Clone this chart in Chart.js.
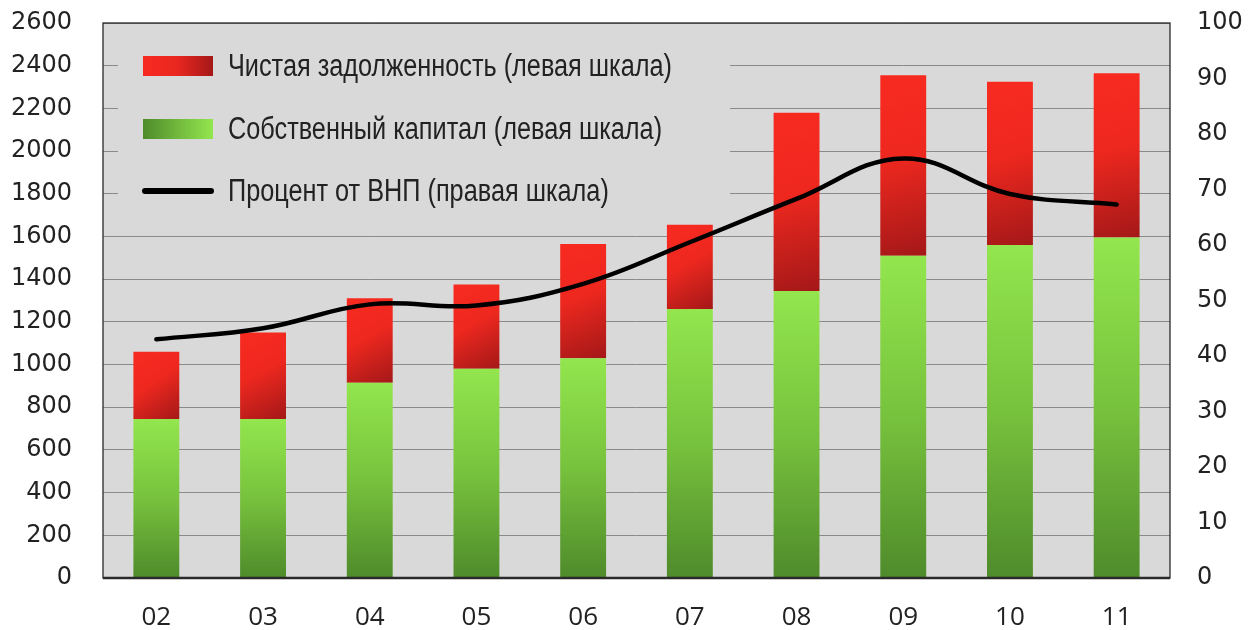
<!DOCTYPE html>
<html lang="ru">
<head>
<meta charset="utf-8">
<script src="https://cdn.jsdelivr.net/npm/chart.js@4/dist/chart.umd.min.js"></script>
<style>
    html, body { margin: 0; padding: 0; background: #fff; }
</style>
</head>
<body>
<canvas id="debt-chart" width="1248" height="630"></canvas>
<script>
// данные графика
const years = ['02', '03', '04', '05', '06', '07', '08', '09', '10', '11'];
const equity = [745, 745, 915, 980, 1030, 1260, 1345, 1510, 1560, 1595];
const netDebt = [315, 405, 395, 395, 535, 395, 835, 845, 765, 770];
const gnpPercent = [43, 45, 49.3, 49.1, 53, 60.5, 68.3, 75.6, 69.2, 67.3];
const seriesNames = [
    'Чистая задолженность (левая шкала)',
    'Собственный капитал (левая шкала)',
    'Процент от ВНП (правая шкала)'
];

const PLOT_BG = '#d9d9d9';
const BAR_HALF = 23;
const TICK_FONT = { family: '"DejaVu Sans", Verdana, sans-serif', size: 24 };

/**
 * градиент для сегмента столбца
 */
function barFill(context, stops, diagonal) {
    const chart = context.chart;
    const { ctx, chartArea, scales } = chart;
    if (!chartArea || context.type !== 'data') return stops[0][1];
    const i = context.dataIndex;
    const base = context.datasetIndex === 0 ? 0 : equity[i];
    const y0 = scales.y.getPixelForValue(base);
    const y1 = scales.y.getPixelForValue(base + context.raw);
    const xc = scales.x.getPixelForValue(i);
    const g = diagonal
        ? ctx.createLinearGradient(xc - BAR_HALF, y1, xc + BAR_HALF, y0)
        : ctx.createLinearGradient(xc, y1, xc, y0);
    stops.forEach(s => g.addColorStop(s[0], s[1]));
    return g;
}

const greenStops = [[0, '#93e64e'], [0.5, '#77c23d'], [1, '#4f8b2b']];
const redStops = [[0, '#f82a20'], [0.45, '#ee281f'], [1, '#a41818']];

// фон и рамка области построения
const plotBackground = {
    id: 'plotBackground',
    beforeDraw(chart) {
        const { ctx, chartArea: a } = chart;
        ctx.save();
        ctx.fillStyle = PLOT_BG;
        ctx.fillRect(a.left, a.top, a.right - a.left, a.bottom - a.top);
        ctx.restore();
    },
    afterDraw(chart) {
        const { ctx, chartArea: a } = chart;
        ctx.save();
        ctx.strokeStyle = '#2a2a2a';
        ctx.lineWidth = 1.3;
        ctx.strokeRect(a.left, a.top, a.right - a.left, a.bottom - a.top);
        ctx.lineWidth = 2.5;
        ctx.beginPath();
        ctx.moveTo(a.left, a.bottom);
        ctx.lineTo(a.right, a.bottom);
        ctx.stroke();
        ctx.restore();
    }
};

// легенда внутри области построения
const innerLegend = {
    id: 'innerLegend',
    beforeDatasetsDraw(chart) {
        const ctx = chart.ctx;
        const a = chart.chartArea;
        ctx.save();
        ctx.fillStyle = PLOT_BG;
        ctx.fillRect(a.left + 15, 40, 612, 185);

        const sx = 143, sw = 70, rows = [66, 129, 191];

        let g = ctx.createLinearGradient(sx, 0, sx + sw, 0);
        g.addColorStop(0, '#f82a20');
        g.addColorStop(0.5, '#e82720');
        g.addColorStop(1, '#a41818');
        ctx.fillStyle = g;
        ctx.fillRect(sx, rows[0] - 10, sw, 20);

        g = ctx.createLinearGradient(sx, 0, sx + sw, 0);
        g.addColorStop(0, '#4f8b2b');
        g.addColorStop(1, '#93e64e');
        ctx.fillStyle = g;
        ctx.fillRect(sx, rows[1] - 10, sw, 20);

        ctx.strokeStyle = '#000';
        ctx.lineWidth = 6;
        ctx.lineCap = 'round';
        ctx.beginPath();
        ctx.moveTo(sx + 2, rows[2]);
        ctx.lineTo(sx + sw - 2, rows[2]);
        ctx.stroke();

        // узкий шрифт: сжимаем по горизонтали
        ctx.fillStyle = '#222';
        ctx.font = '31px "Liberation Sans", Arial, sans-serif';
        ctx.textBaseline = 'middle';
        const k = 444 / ctx.measureText(seriesNames[0]).width;
        seriesNames.forEach((name, n) => {
            ctx.save();
            ctx.translate(228, rows[n] + 1);
            ctx.scale(k, 1);
            ctx.fillText(name, 0, 0);
            ctx.restore();
        });
        ctx.restore();
    }
};

new Chart(document.getElementById('debt-chart'), {
    data: {
        labels: years,
        datasets: [{
            type: 'bar',
            label: seriesNames[1],
            data: equity,
            backgroundColor: c => barFill(c, greenStops, false),
            barPercentage: 0.43,
            categoryPercentage: 1,
            yAxisID: 'y',
            order: 2
        }, {
            type: 'bar',
            label: seriesNames[0],
            data: netDebt,
            backgroundColor: c => barFill(c, redStops, true),
            barPercentage: 0.43,
            categoryPercentage: 1,
            yAxisID: 'y',
            order: 2
        }, {
            type: 'line',
            label: seriesNames[2],
            data: gnpPercent,
            borderColor: '#000',
            borderWidth: 4.5,
            borderCapStyle: 'round',
            tension: 0.4,
            pointRadius: 0,
            fill: false,
            yAxisID: 'y1',
            order: 0
        }]
    },
    options: {
        responsive: false,
        animation: false,
        layout: { padding: { top: 23 } },
        scales: {
            x: {
                stacked: true,
                grid: { display: false, drawTicks: false },
                border: { display: false },
                ticks: {
                    padding: 24,
                    color: '#222',
                    font: { family: '"Open Sans", sans-serif', size: 26 }
                },
                afterFit: s => { s.height = 52; s.paddingLeft = 0; s.paddingRight = 0; }
            },
            y: {
                stacked: true,
                min: 0,
                max: 2600,
                position: 'left',
                grid: { color: '#8a8a8a', lineWidth: 1, drawTicks: false },
                border: { display: false },
                ticks: {
                    stepSize: 200,
                    padding: 31,
                    color: '#222',
                    font: TICK_FONT,
                    callback: v => String(v)
                },
                afterFit: s => { s.width = 103; s.paddingTop = 0; s.paddingBottom = 0; }
            },
            y1: {
                min: 0,
                max: 100,
                position: 'right',
                grid: { display: false, drawTicks: false },
                border: { display: false },
                ticks: {
                    stepSize: 10,
                    padding: 27,
                    color: '#222',
                    font: TICK_FONT,
                    callback: v => String(v)
                },
                afterFit: s => { s.width = 78; s.paddingTop = 0; s.paddingBottom = 0; }
            }
        },
        plugins: {
            legend: { display: false },
            tooltip: { enabled: false }
        }
    },
    plugins: [plotBackground, innerLegend]
});
</script>
</body>
</html>
